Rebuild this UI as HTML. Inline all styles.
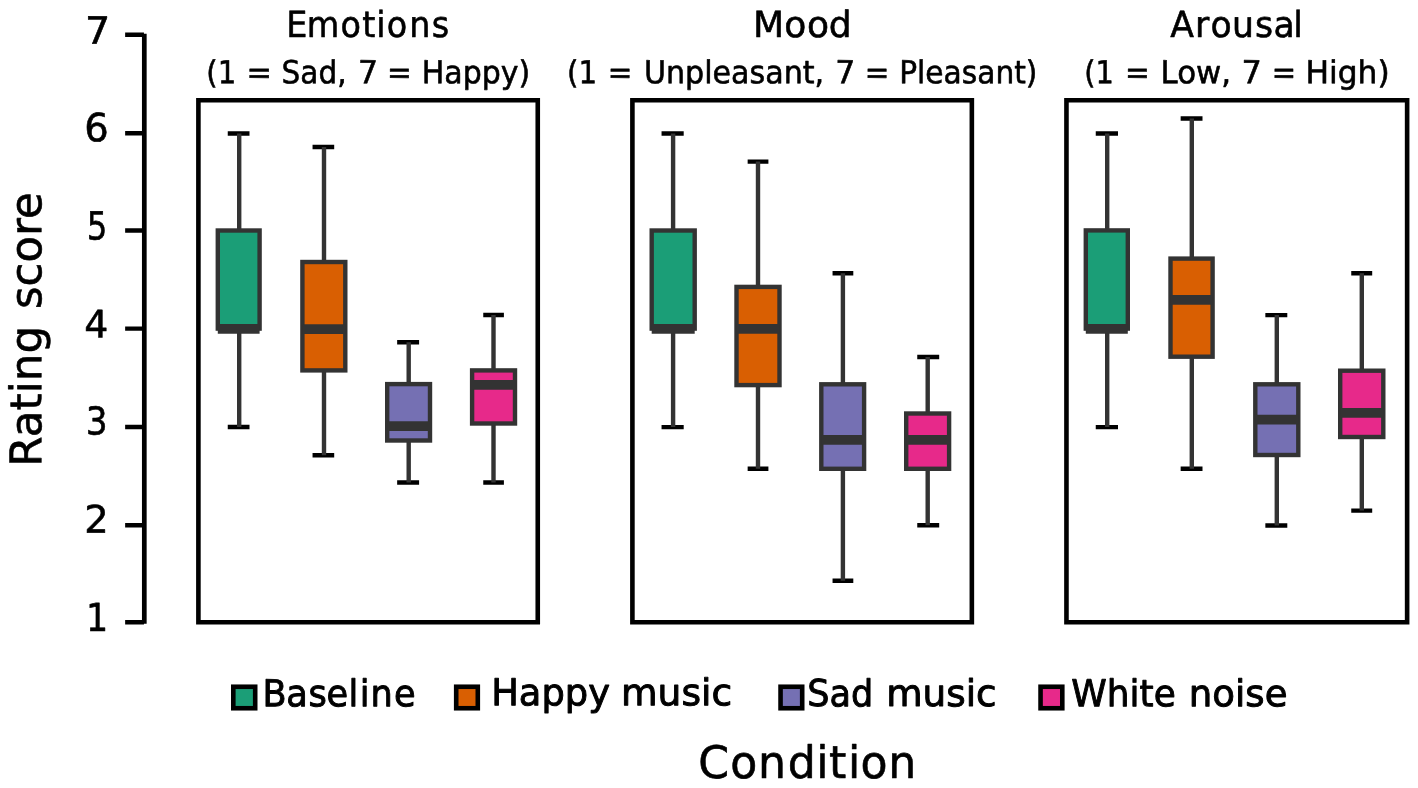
<!DOCTYPE html>
<html lang="en"><head><meta charset="utf-8"><title>Rating score by condition</title>
<style>html,body{margin:0;padding:0;background:#fff}body{width:1418px;height:788px;overflow:hidden}svg{display:block;will-change:transform}text{fill:#000;stroke:#000;stroke-width:0.6px;stroke-linejoin:round;text-rendering:geometricPrecision}.lg{stroke-width:.95px}</style></head><body>
<svg width="1418" height="788" viewBox="0 0 1418 788" font-family="'DejaVu Sans','Liberation Sans',sans-serif">
<rect width="1418" height="788" fill="#fff"/>
<path d="M141.95,33.85h4.7V623.65h-4.7zM125.14,620.115H143.95v4.45H125.14zM125.14,522.975H143.95v4.45H125.14zM125.14,424.775H143.95v4.45H125.14zM125.14,326.375H143.95v4.45H125.14zM125.14,228.275H143.95v4.45H125.14zM125.14,131.075H143.95v4.45H125.14zM125.14,32.575H143.95v4.45H125.14z" fill="#000"/>
<text rotate="0.04" x="85.06" y="43.67" font-size="37.58" textLength="25.23" lengthAdjust="spacingAndGlyphs">7</text>
<text rotate="0.04" x="84.34" y="141.32" font-size="38.86" textLength="24.49" lengthAdjust="spacingAndGlyphs">6</text>
<text rotate="0.04" x="86.63" y="239.53" font-size="38.65" textLength="20.60" lengthAdjust="spacingAndGlyphs">5</text>
<text rotate="0.04" x="84.33" y="337.44" font-size="37.94" textLength="24.06" lengthAdjust="spacingAndGlyphs">4</text>
<text rotate="0.04" x="85.65" y="434.45" font-size="38.33" textLength="21.85" lengthAdjust="spacingAndGlyphs">3</text>
<text rotate="0.04" x="84.16" y="532.63" font-size="38.16" textLength="24.47" lengthAdjust="spacingAndGlyphs">2</text>
<text rotate="0.04" x="86.01" y="631.11" font-size="38.55" textLength="22.19" lengthAdjust="spacingAndGlyphs">1</text>
<text transform="translate(41.36,462.90) rotate(-90)" rotate="0.04" y="0" font-size="43.50"><tspan x="-3.83" textLength="141.01" lengthAdjust="spacingAndGlyphs">Rating</tspan> <tspan x="153.84" textLength="116.85" lengthAdjust="spacingAndGlyphs">score</tspan></text>
<path fill-rule="evenodd" fill="#000" d="M196.10,98.075H540.06V624.565H196.10zM200.70,102.525H535.46V620.115H200.70z"/>
<path fill-rule="evenodd" fill="#000" d="M630.10,98.075H974.15V624.565H630.10zM634.70,102.525H969.55V620.115H634.70z"/>
<path fill-rule="evenodd" fill="#000" d="M1064.15,98.075H1409.43V624.565H1064.15zM1068.75,102.525H1404.83V620.115H1068.75z"/>
<text rotate="0.04" transform="scale(0.9297,1)" x="307.98 330.02 366.31 389.69 404.82 416.11 440.14 464.42" y="36.91" font-size="35.94">Emotions</text>
<text rotate="0.04" y="83.32" font-size="31.66"><tspan x="206.25" textLength="30.00" lengthAdjust="spacingAndGlyphs">(1</tspan> <tspan x="246.54" textLength="25.42" lengthAdjust="spacingAndGlyphs">=</tspan> <tspan x="281.61" textLength="64.94" lengthAdjust="spacingAndGlyphs">Sad,</tspan> <tspan x="358.03" textLength="20.06" lengthAdjust="spacingAndGlyphs">7</tspan> <tspan x="387.03" textLength="24.76" lengthAdjust="spacingAndGlyphs">=</tspan> <tspan x="421.81" textLength="108.35" lengthAdjust="spacingAndGlyphs">Happy)</tspan></text>
<text rotate="0.04" transform="scale(0.9986,1)" x="754.00 785.30 808.13 829.94" y="36.91" font-size="36.10">Mood</text>
<text rotate="0.04" y="83.32" font-size="31.66"><tspan x="567.04" textLength="30.12" lengthAdjust="spacingAndGlyphs">(1</tspan> <tspan x="607.84" textLength="24.62" lengthAdjust="spacingAndGlyphs">=</tspan> <tspan x="643.89" textLength="180.26" lengthAdjust="spacingAndGlyphs">Unpleasant,</tspan> <tspan x="835.13" textLength="20.06" lengthAdjust="spacingAndGlyphs">7</tspan> <tspan x="864.84" textLength="24.62" lengthAdjust="spacingAndGlyphs">=</tspan> <tspan x="899.24" textLength="138.19" lengthAdjust="spacingAndGlyphs">Pleasant)</tspan></text>
<text rotate="0.04" transform="scale(0.9650,1)" x="1212.70 1238.26 1254.32 1276.69 1300.56 1319.57 1340.24" y="36.91" font-size="35.94">Arousal</text>
<text rotate="0.04" y="83.32" font-size="31.66"><tspan x="1084.28" textLength="29.63" lengthAdjust="spacingAndGlyphs">(1</tspan> <tspan x="1124.93" textLength="24.76" lengthAdjust="spacingAndGlyphs">=</tspan> <tspan x="1160.52" textLength="70.54" lengthAdjust="spacingAndGlyphs">Low,</tspan> <tspan x="1241.49" textLength="20.33" lengthAdjust="spacingAndGlyphs">7</tspan> <tspan x="1271.78" textLength="24.36" lengthAdjust="spacingAndGlyphs">=</tspan> <tspan x="1305.48" textLength="84.19" lengthAdjust="spacingAndGlyphs">High)</tspan></text>
<path d="M227.75,133.4H249.50M227.75,427.0H249.50" stroke="#000" stroke-width="4.45" fill="none"/>
<path d="M239.2,133.4V230.5M239.2,328.6V427.0" stroke="#333" stroke-width="4.4" fill="none"/>
<rect x="217.80" y="230.5" width="41.80" height="98.10" fill="#1B9E77" stroke="#333" stroke-width="4.4"/>
<path d="M217.80,328.9H259.60" stroke="#333" stroke-width="9.7" fill="none"/>
<path d="M312.55,146.9H334.20M312.55,455.3H334.20" stroke="#000" stroke-width="4.45" fill="none"/>
<path d="M324.0,146.9V262.0M324.0,370.4V455.3" stroke="#333" stroke-width="4.4" fill="none"/>
<rect x="302.40" y="262.0" width="42.90" height="108.40" fill="#D95F02" stroke="#333" stroke-width="4.4"/>
<path d="M302.40,329.1H345.30" stroke="#333" stroke-width="9.7" fill="none"/>
<path d="M397.15,342.2H419.10M397.15,482.4H419.10" stroke="#000" stroke-width="4.45" fill="none"/>
<path d="M408.7,342.2V384.1M408.7,440.5V482.4" stroke="#333" stroke-width="4.4" fill="none"/>
<rect x="387.20" y="384.1" width="42.80" height="56.40" fill="#7570B3" stroke="#333" stroke-width="4.4"/>
<path d="M387.20,426.2H430.00" stroke="#333" stroke-width="9.7" fill="none"/>
<path d="M483.25,315.0H503.90M483.25,482.4H503.90" stroke="#000" stroke-width="4.45" fill="none"/>
<path d="M493.5,315.0V370.4M493.5,423.5V482.4" stroke="#333" stroke-width="4.4" fill="none"/>
<rect x="472.10" y="370.4" width="42.90" height="53.10" fill="#E7298A" stroke="#333" stroke-width="4.4"/>
<path d="M472.10,384.8H515.00" stroke="#333" stroke-width="9.7" fill="none"/>
<path d="M661.55,133.4H683.70M661.55,427.1H683.70" stroke="#000" stroke-width="4.45" fill="none"/>
<path d="M673.1,133.4V230.5M673.1,328.6V427.1" stroke="#333" stroke-width="4.4" fill="none"/>
<rect x="651.70" y="230.5" width="43.00" height="98.10" fill="#1B9E77" stroke="#333" stroke-width="4.4"/>
<path d="M651.70,328.9H694.70" stroke="#333" stroke-width="9.7" fill="none"/>
<path d="M747.65,161.6H768.40M747.65,468.8H768.40" stroke="#000" stroke-width="4.45" fill="none"/>
<path d="M758.0,161.6V286.9M758.0,385.1V468.8" stroke="#333" stroke-width="4.4" fill="none"/>
<rect x="736.50" y="286.9" width="43.00" height="98.20" fill="#D95F02" stroke="#333" stroke-width="4.4"/>
<path d="M736.50,328.9H779.50" stroke="#333" stroke-width="9.7" fill="none"/>
<path d="M832.55,273.2H853.30M832.55,580.7H853.30" stroke="#000" stroke-width="4.45" fill="none"/>
<path d="M842.9,273.2V384.3M842.9,468.8V580.7" stroke="#333" stroke-width="4.4" fill="none"/>
<rect x="821.30" y="384.3" width="42.80" height="84.50" fill="#7570B3" stroke="#333" stroke-width="4.4"/>
<path d="M821.30,439.8H864.10" stroke="#333" stroke-width="9.7" fill="none"/>
<path d="M917.25,357.0H939.20M917.25,525.2H939.20" stroke="#000" stroke-width="4.45" fill="none"/>
<path d="M927.7,357.0V413.5M927.7,468.8V525.2" stroke="#333" stroke-width="4.4" fill="none"/>
<rect x="906.20" y="413.5" width="42.90" height="55.30" fill="#E7298A" stroke="#333" stroke-width="4.4"/>
<path d="M906.20,439.8H949.10" stroke="#333" stroke-width="9.7" fill="none"/>
<path d="M1095.75,133.4H1118.00M1095.75,427.1H1118.00" stroke="#000" stroke-width="4.45" fill="none"/>
<path d="M1107.2,133.4V230.4M1107.2,328.6V427.1" stroke="#333" stroke-width="4.4" fill="none"/>
<rect x="1085.80" y="230.4" width="42.00" height="98.20" fill="#1B9E77" stroke="#333" stroke-width="4.4"/>
<path d="M1085.80,328.9H1127.80" stroke="#333" stroke-width="9.7" fill="none"/>
<path d="M1180.65,118.5H1202.50M1180.65,468.8H1202.50" stroke="#000" stroke-width="4.45" fill="none"/>
<path d="M1191.8,118.5V258.6M1191.8,356.7V468.8" stroke="#333" stroke-width="4.4" fill="none"/>
<rect x="1170.50" y="258.6" width="42.10" height="98.10" fill="#D95F02" stroke="#333" stroke-width="4.4"/>
<path d="M1170.50,299.9H1212.60" stroke="#333" stroke-width="9.7" fill="none"/>
<path d="M1265.35,315.1H1287.30M1265.35,525.4H1287.30" stroke="#000" stroke-width="4.45" fill="none"/>
<path d="M1276.8,315.1V384.3M1276.8,455.0V525.4" stroke="#333" stroke-width="4.4" fill="none"/>
<rect x="1255.30" y="384.3" width="43.00" height="70.70" fill="#7570B3" stroke="#333" stroke-width="4.4"/>
<path d="M1255.30,419.7H1298.30" stroke="#333" stroke-width="9.7" fill="none"/>
<path d="M1351.25,273.2H1372.20M1351.25,510.6H1372.20" stroke="#000" stroke-width="4.45" fill="none"/>
<path d="M1361.8,273.2V370.7M1361.8,437.0V510.6" stroke="#333" stroke-width="4.4" fill="none"/>
<rect x="1340.20" y="370.7" width="43.10" height="66.30" fill="#E7298A" stroke="#333" stroke-width="4.4"/>
<path d="M1340.20,412.8H1383.30" stroke="#333" stroke-width="9.7" fill="none"/>
<rect x="233.30" y="686.75" width="21.90" height="21.50" fill="#1B9E77" stroke="#000" stroke-width="4.6"/>
<rect x="456.20" y="686.75" width="21.60" height="21.50" fill="#D95F02" stroke="#000" stroke-width="4.6"/>
<rect x="780.55" y="686.75" width="21.65" height="21.50" fill="#7570B3" stroke="#000" stroke-width="4.6"/>
<rect x="1040.55" y="686.75" width="21.75" height="21.50" fill="#E7298A" stroke="#000" stroke-width="4.6"/>
<text class="lg" rotate="0.04" transform="scale(0.9524,1)" x="275.60 300.68 323.90 342.82 366.00 377.87 389.13 413.59" y="706.31" font-size="36.92">Baseline</text>
<text class="lg" rotate="0.04" y="705.27" font-size="37.00"><tspan x="491.14" textLength="118.78" lengthAdjust="spacingAndGlyphs">Happy</tspan> <tspan x="620.95" textLength="111.14" lengthAdjust="spacingAndGlyphs">music</tspan></text>
<text class="lg" rotate="0.04" y="706.13" font-size="36.96"><tspan x="807.25" textLength="65.97" lengthAdjust="spacingAndGlyphs">Sad</tspan> <tspan x="886.17" textLength="110.40" lengthAdjust="spacingAndGlyphs">music</tspan></text>
<text class="lg" rotate="0.04" y="706.22" font-size="36.96"><tspan x="1071.36" textLength="104.40" lengthAdjust="spacingAndGlyphs">White</tspan> <tspan x="1188.79" textLength="98.72" lengthAdjust="spacingAndGlyphs">noise</tspan></text>
<text rotate="0.04" transform="scale(0.9857,1)" x="708.39 740.88 768.98 799.19 828.02 840.91 860.38 872.86 901.26" y="777.88" font-size="44.83">Condition</text>
</svg></body></html>
